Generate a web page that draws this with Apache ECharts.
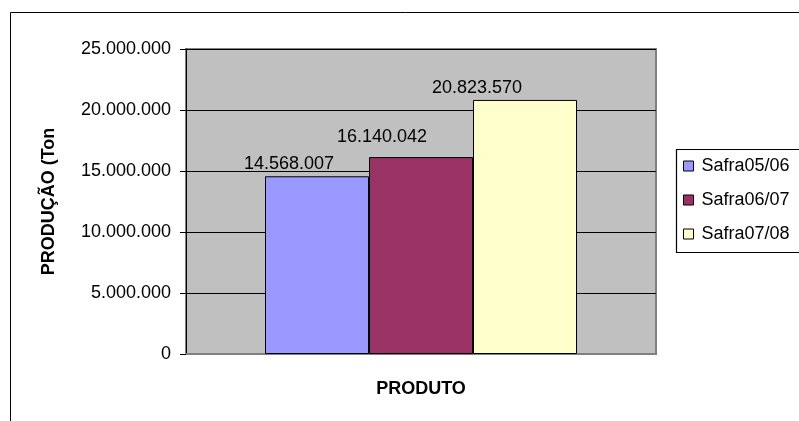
<!DOCTYPE html>
<html>
<head>
<meta charset="utf-8">
<script src="https://cdn.jsdelivr.net/npm/echarts@6/dist/echarts.min.js"></script>
<style>
  html, body { margin: 0; padding: 0; background: #fff; overflow: hidden; }
  #chart { width: 799px; height: 421px; }
</style>
</head>
<body>
<div id="chart"></div>
<script>
// Production per harvest season (tons)
const categories = ['PRODUTO'];
const harvests = ['Safra05/06', 'Safra06/07', 'Safra07/08'];
const production = [14568007, 16140042, 20823570];

// Value axis range
const axisMin = 0;
const axisMax = 25000000;
const axisStep = 5000000;

// Styling
const FONT = '"Liberation Sans", Arial, sans-serif';
const barColors = ['#9999FF', '#993366', '#FFFFCC'];
const labelNudge = [[-28, 0], [-39, -8], [-48, 0]];

function dotted(v) {
  return String(Math.round(v)).replace(/\B(?=(\d{3})+(?!\d))/g, '.');
}

const chart = echarts.init(document.getElementById('chart'), null, { renderer: 'canvas' });

chart.setOption({
  animation: false,
  backgroundColor: '#fff',
  textStyle: { fontFamily: FONT, color: '#000' },
  graphic: [
    {
      // outer chart frame
      type: 'rect',
      silent: true,
      shape: { x: 10.5, y: 12.5, width: 1200, height: 800 },
      style: { fill: 'none', stroke: '#000', lineWidth: 1 }
    },
    {
      // legend frame: top, left and bottom edges only, open past the right edge
      type: 'polyline',
      silent: true,
      z: 3,
      shape: { points: [[820, 149.5], [676.5, 149.5], [676.5, 252.5], [820, 252.5]] },
      style: { fill: null, stroke: '#000', lineWidth: 1.2 }
    }
  ],
  grid: {
    left: 186, top: 49, width: 470, height: 305,
    show: true,
    backgroundColor: '#C0C0C0',
    borderColor: '#808080',
    borderWidth: 2
  },
  legend: {
    data: harvests,
    orient: 'vertical',
    left: 676,
    top: 149,
    padding: [8, 0, 9, 7],
    itemGap: 16,
    itemWidth: 10,
    itemHeight: 10,
    icon: 'rect',
    z: 10,
    itemStyle: { borderColor: '#000', borderWidth: 1 },
    textStyle: { fontFamily: FONT, fontSize: 18, color: '#000', padding: [0, 0, 0, 3] }
  },
  xAxis: {
    type: 'category',
    data: categories,
    axisLine: { show: true, lineStyle: { color: '#808080', width: 2 } },
    axisTick: { show: false },
    axisLabel: {
      show: true, margin: 26,
      fontFamily: FONT, fontSize: 18, fontWeight: 'bold', color: '#000'
    },
    splitLine: { show: false }
  },
  yAxis: {
    type: 'value',
    min: axisMin,
    max: axisMax,
    interval: axisStep,
    name: 'PRODUÇÃO (Ton',
    nameLocation: 'middle',
    nameGap: 128,
    nameTextStyle: { fontFamily: FONT, fontSize: 18, fontWeight: 'bold', color: '#000' },
    axisLine: { show: true, lineStyle: { color: '#000', width: 1 } },
    axisTick: { show: true, inside: false, length: 6, lineStyle: { color: '#000' } },
    axisLabel: {
      margin: 15,
      fontFamily: FONT, fontSize: 18, color: '#000',
      formatter: dotted
    },
    splitLine: { show: true, lineStyle: { color: '#000', width: 1 } }
  },
  series: harvests.map((name, i) => ({
    type: 'bar',
    name: name,
    data: [production[i]],
    barWidth: 104,
    barGap: '0%',
    itemStyle: { color: barColors[i], borderColor: '#000', borderWidth: 1 },
    label: {
      show: true,
      position: 'top',
      distance: 3,
      offset: labelNudge[i],
      fontFamily: FONT,
      fontSize: 18,
      color: '#000',
      formatter: p => dotted(p.value)
    }
  }))
});
</script>
</body>
</html>
